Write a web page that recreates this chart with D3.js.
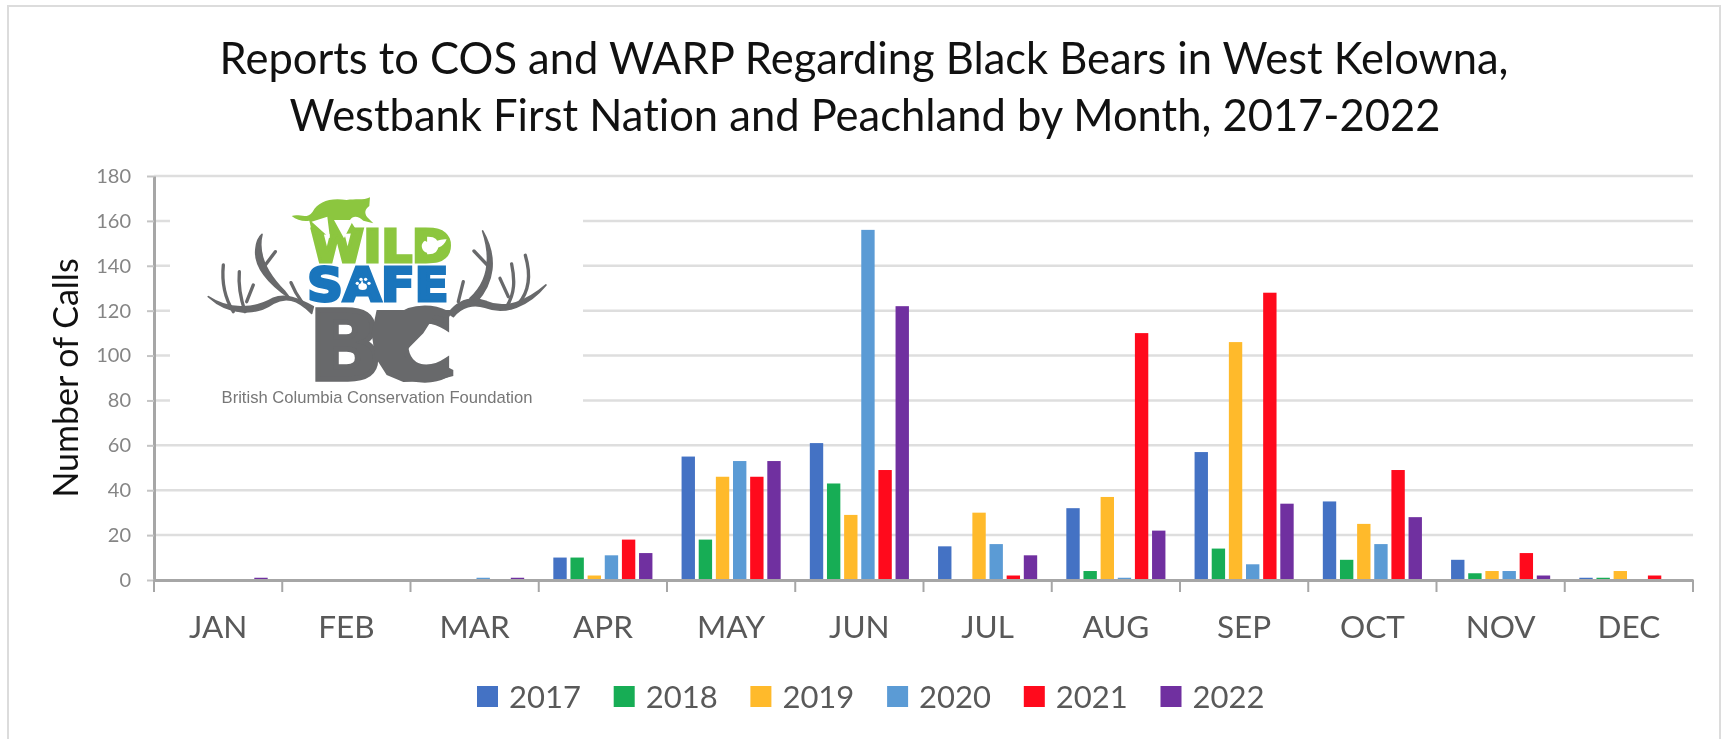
<!DOCTYPE html>
<html>
<head>
<meta charset="utf-8">
<script src="https://d3js.org/d3.v7.min.js"></script>
<style>
html, body { margin: 0; padding: 0; background: #fff; overflow: hidden; }
svg { display: block; filter: blur(0.5px); }
text { font-family: Lato, sans-serif; font-variant-ligatures: none; }
</style>
</head>
<body>
<div id="chart"></div>
<script>
var months = ["JAN", "FEB", "MAR", "APR", "MAY", "JUN", "JUL", "AUG", "SEP", "OCT", "NOV", "DEC"];
var years = ["2017", "2018", "2019", "2020", "2021", "2022"];
var yearColors = ["#4472c4", "#17ad55", "#ffba2b", "#5b9bd5", "#ff0a1c", "#7030a0"];
var yTicks = [0, 20, 40, 60, 80, 100, 120, 140, 160, 180];

var calls2017 = [0, 0, 0, 10, 55, 61, 15, 32, 57, 35, 9, 1];
var calls2018 = [0, 0, 0, 10, 18, 43, 0, 4, 14, 9, 3, 1];
var calls2019 = [0, 0, 0, 2, 46, 29, 30, 37, 106, 25, 4, 4];
var calls2020 = [0, 0, 1, 11, 53, 156, 16, 1, 7, 16, 4, 0];
var calls2021 = [0, 0, 0, 18, 46, 49, 2, 110, 128, 49, 12, 2];
var calls2022 = [1, 0, 1, 12, 53, 122, 11, 22, 34, 28, 2, 0];
var series = [calls2017, calls2018, calls2019, calls2020, calls2021, calls2022];

var width = 1721, height = 739;
var margin = { left: 154, top: 176, right: 28, bottom: 159 };
var plot_w = width - margin.left - margin.right;
var plot_h = height - margin.top - margin.bottom;

var svg = d3.select("#chart").append("svg")
    .attr("width", width)
    .attr("height", height);

// outer frame, runs off the bottom of the picture
svg.append("rect")
    .attr("x", 8).attr("y", 6)
    .attr("width", 1712).attr("height", 760)
    .attr("fill", "#fff")
    .attr("stroke", "#dcdcdc")
    .attr("stroke-width", 2);

var title = svg.append("text")
    .attr("text-anchor", "middle")
    .attr("fill", "#111")
    .style("font-size", "43.5px");
title.append("tspan").attr("x", 864).attr("y", 74)
    .text("Reports to COS and WARP Regarding Black Bears in West Kelowna,");
title.append("tspan").attr("x", 865).attr("y", 131)
    .text("Westbank First Nation and Peachland by Month, 2017-2022");

var g = svg.append("g")
    .attr("transform", "translate(" + margin.left + "," + margin.top + ")");

var xScale = d3.scaleBand()
    .domain(months)
    .range([0, plot_w]);

var groupScale = d3.scaleBand()
    .domain(years)
    .range([0, xScale.bandwidth()])
    .paddingInner(0.22)
    .paddingOuter(0.85);

var yScale = d3.scaleLinear()
    .domain([0, 180])
    .range([plot_h, 0]);

// gridlines
g.append("g").selectAll("line")
    .data(yTicks.filter(function(d) { return d > 0; }))
    .enter().append("line")
    .attr("x1", 0)
    .attr("x2", plot_w)
    .attr("y1", function(d) { return yScale(d); })
    .attr("y2", function(d) { return yScale(d); })
    .attr("stroke", "#dedede")
    .attr("stroke-width", 2.5);

// bars
years.forEach(function(year, i) {
    g.append("g").selectAll("rect")
        .data(series[i])
        .enter().append("rect")
        .attr("x", function(d, m) { return xScale(months[m]) + groupScale(year); })
        .attr("y", function(d) { return yScale(d); })
        .attr("width", groupScale.bandwidth())
        .attr("height", function(d) { return plot_h - yScale(d); })
        .attr("fill", yearColors[i]);
});

// axes
var yAxis = d3.axisLeft(yScale)
    .tickValues(yTicks)
    .tickSize(7)
    .tickSizeOuter(0)
    .tickPadding(16);

var yG = g.append("g").attr("class", "axis").call(yAxis);
yG.selectAll("text").attr("fill", "#858585").style("font-size", "20px").style("font-family", "Lato, sans-serif");
yG.selectAll("line").attr("stroke", "#c4c4c4").attr("stroke-width", 2);
yG.select(".domain").attr("stroke", "#a6a6a6").attr("stroke-width", 3);

var xAxis = d3.axisBottom(xScale).tickSize(0).tickSizeOuter(0);
var xG = g.append("g").attr("class", "axis")
    .attr("transform", "translate(0," + plot_h + ")")
    .call(xAxis);
xG.select(".domain").attr("stroke", "#a6a6a6").attr("stroke-width", 3);
xG.selectAll("text")
    .attr("y", 58)
    .attr("dy", 0)
    .attr("fill", "#595959")
    .style("font-size", "31.5px")
    .style("font-family", "Lato, sans-serif");

// month separators
xG.append("g").selectAll("line")
    .data(months.concat(["end"]))
    .enter().append("line")
    .attr("x1", function(d, i) { return i * xScale.step(); })
    .attr("x2", function(d, i) { return i * xScale.step(); })
    .attr("y1", 0)
    .attr("y2", 12)
    .attr("stroke", "#a6a6a6")
    .attr("stroke-width", 2);

svg.append("text")
    .attr("transform", "translate(78,378) rotate(-90)")
    .attr("text-anchor", "middle")
    .attr("fill", "#111")
    .style("font-size", "34px")
    .text("Number of Calls");

// legend
var legend = svg.append("g").selectAll("g")
    .data(years)
    .enter().append("g")
    .attr("transform", function(d, i) { return "translate(" + (477 + i * 136.7) + ",686)"; });
legend.append("rect")
    .attr("width", 21).attr("height", 21)
    .attr("fill", function(d, i) { return yearColors[i]; });
legend.append("text")
    .attr("x", 32).attr("y", 22)
    .attr("fill", "#595959")
    .style("font-size", "31px")
    .text(function(d) { return d; });

// Wild Safe BC logo, sits on a white patch that hides the gridlines.
// Shapes are in a 3x grid so they are easier to trace.
svg.append("rect")
    .attr("x", 170).attr("y", 180)
    .attr("width", 413).attr("height", 240)
    .attr("fill", "#fff");

var logo = svg.append("g")
    .attr("transform", "translate(190,170) scale(0.3333)");

var logoGrey = "#68696b", logoGreen = "#8cc63f", logoBlue = "#1a75bc";

function logoText(label, x, y, size, len, color, weight) {
    return logo.append("text")
        .attr("x", x).attr("y", y)
        .attr("textLength", len)
        .attr("lengthAdjust", "spacingAndGlyphs")
        .attr("fill", color)
        .attr("stroke", color)
        .attr("stroke-width", weight)
        .style("font-family", "'DejaVu Sans'")
        .style("font-weight", "bold")
        .style("font-size", size + "px")
        .text(label);
}

logoText("WILD", 362, 277, 132, 424, logoGreen, 9);
logoText("SAFE", 352, 394, 140, 424, logoBlue, 9);
logoText("BC", 358, 628, 285, 430, logoGrey, 16);

// squirrel in the D, paw in the A
logo.append("path")
    .attr("d", "M705 212 C725 225 745 205 770 208 C760 235 735 235 722 240 C728 250 715 252 705 246 C692 235 692 220 705 212 Z")
    .attr("fill", "#fff");
logo.append("ellipse").attr("cx", 518).attr("cy", 350).attr("rx", 13).attr("ry", 10).attr("fill", "#fff");
[[502, 340], [513, 328], [527, 328], [537, 340]].forEach(function(p) {
    logo.append("circle").attr("cx", p[0]).attr("cy", p[1]).attr("r", 5).attr("fill", "#fff");
});

// cougar on the W
logo.append("path")
    .attr("d", "M305 138 C330 130 350 150 368 125 C385 95 420 82 470 90 C495 86 520 92 540 82 L538 108 C525 118 522 128 532 142 L550 160 L520 152 C505 138 490 135 480 150 L505 190 L368 195 L358 152 C340 155 320 150 305 138 Z")
    .attr("fill", logoGreen);
logo.append("path")
    .attr("d", "M365 155 L412 140 L420 205 Z M432 150 L490 150 L462 205 Z")
    .attr("fill", "#fff");

// coast shape of the C
logo.append("path")
    .attr("d", "M560 420 L790 420 L775 445 L735 435 L700 490 L660 530 L640 555 L665 575 L720 590 L750 580 L790 600 L790 618 L730 634 L640 636 L590 615 L555 560 L545 490 Z")
    .attr("fill", logoGrey);

// antlers: beams then prongs
var beams = [
    "M365 430 C320 385 285 380 250 400 C200 435 120 440 55 380 C115 420 190 420 250 385 C285 370 325 385 370 410 Z",
    "M775 430 C810 385 850 380 890 395 C945 420 1010 395 1068 345 C1015 410 945 435 885 412 C850 400 815 410 790 440 Z",
    "M300 385 C235 340 190 290 198 235 C200 215 208 200 216 193 C208 225 205 285 285 365 Z",
    "M860 395 C910 340 925 265 878 183 C905 265 895 335 840 385 Z"
];
var prongs = [
    "M222 290 L256 245", "M130 425 C105 385 95 335 100 285", "M165 425 C150 380 145 340 148 305",
    "M170 395 L190 345", "M335 395 C320 375 310 355 303 338",
    "M892 285 L852 243", "M805 395 L820 335", "M950 410 C975 370 975 330 965 282",
    "M955 380 L930 325", "M985 402 C1022 360 1022 310 1006 256"
];
logo.selectAll("path.beam")
    .data(beams)
    .enter().append("path")
    .attr("class", "beam")
    .attr("d", function(d) { return d; })
    .attr("fill", logoGrey)
    .attr("stroke", logoGrey)
    .attr("stroke-width", 5)
    .attr("stroke-linejoin", "round");
logo.selectAll("path.prong")
    .data(prongs)
    .enter().append("path")
    .attr("class", "prong")
    .attr("d", function(d) { return d; })
    .attr("fill", "none")
    .attr("stroke", logoGrey)
    .attr("stroke-width", 10)
    .attr("stroke-linecap", "round");

svg.append("text")
    .attr("x", 377).attr("y", 403)
    .attr("text-anchor", "middle")
    .attr("fill", "#777")
    .style("font-family", "'Liberation Sans'")
    .style("font-size", "16.6px")
    .text("British Columbia Conservation Foundation");
</script>
</body>
</html>
